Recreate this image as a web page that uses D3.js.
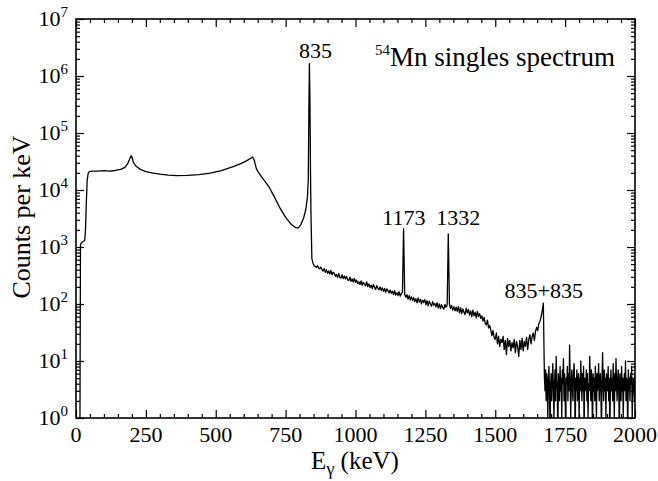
<!DOCTYPE html>
<html><head><meta charset="utf-8">
<script src="https://cdn.jsdelivr.net/npm/d3@7"></script>
<style>
body{margin:0;background:#fff}
text{font-family:"Liberation Serif","Times New Roman",serif;fill:#000}
</style>
</head><body>
<svg id="c" width="658" height="481"></svg>
<script>
// ---- data ----
const smoothEnergy = [0,14,16,20,26,31,34,37,40,44,48,60,80,100,120,140,160,175,185,192,197,200,205,215,230,250,275,300,330,360,400,440,480,520,560,590,610,625,632,638,645,655,670,690,710,730,750,770,785,795,805,815,822,828,831,833,835,837,839,841];
const smoothCounts = [0,0,1100,1200,1250,1300,2000,6000,15000,20000,21000,21500,21500,21800,21500,22000,23000,25000,29000,35000,40000,38000,31000,26000,23000,21000,19800,19000,18300,17900,18000,18600,19700,21800,25500,29000,32500,36000,38000,33000,24000,19500,15500,11500,7500,4800,3300,2500,2200,2150,2500,3300,4500,7500,15000,200000,1670000,400000,20000,3000];
const contStart = 844, contWidth = 4;
const contCounts = [
620,520,470,455,440,470,430,415,445,400,
380,420,360,400,345,380,335,390,325,360,
345,305,330,290,340,295,285,325,280,310,
275,305,265,258,295,250,275,243,280,240,
262,228,245,220,255,212,240,224,208,245,
202,226,194,214,186,220,196,180,210,190,
178,200,174,192,166,188,160,184,172,156,
176,154,168,146,172,144,158,141,164,137,
152,162,2100,147,132,146,122,140,117,134,
116,130,110,124,105,128,108,121,101,117,
106,120,97,114,93,112,100,91,110,95,
102,89,106,85,100,83,97,87,81,98,
88,96,1700,101,83,94,78,90,76,88,
74,90,70,86,68,82,72,65,84,70,
80,64,76,60,78,62,72,57,74,60,
68,56,62,50,58,46,43,52,38,42,
35,28,34,26,24,31,20,27,18,24,
21,27,16,23,13,25,18,23,15,21,
17,24,14,22,18,12,23,16,25,15,
22,18,26,16,24,29,20,27,31,23,
33,39,34,45,50,59,76,104];
const tailStart = 1676, tailWidth = 2;
const tailCounts = [
5,3,7,2,6,4,1,5,8,3,
0,4,6,2,5,9,3,1,4,7,
2,12,5,3,0,6,4,2,8,3,
5,1,7,4,11,2,6,3,0,5,
4,8,2,6,3,19,5,1,4,7,
3,2,6,9,4,0,5,3,7,2,
4,6,1,5,3,10,4,2,6,3,
8,0,5,3,4,7,2,6,1,4,
3,12,5,2,7,4,0,6,3,5,
2,8,4,1,6,3,5,9,2,4,
6,3,0,5,14,4,2,7,3,5,
1,6,4,3,8,2,5,0,4,7,
3,5,2,9,4,1,6,3,11,4,
2,5,7,3,0,6,4,2,8,3,
5,1,4,6,3,10,2,5,4,0,
7,3,5,2,6,4,8,1,3,5,
4,2,6];
const xTickValues = [0,250,500,750,1000,1250,1500,1750,2000];
const yExponents = [0,1,2,3,4,5,6,7];
const peakNames = ["835","1173","1332","835+835"];
const peakEnergies = [835,1173,1332,1670];
const peakLabelCounts = [2.07e6,2430,2430,127];
const titleIsotope = "54";
const titleText = "Mn singles spectrum";

// ---- layout ----
const M = {l:76, r:635, t:19, b:418};
const peakLabelDx = [6,0,10,1];
const svg = d3.select("#c");
const x = d3.scaleLinear().domain([0,2000]).range([M.l, M.r]);
const y = d3.scaleLog().domain([1,1e7]).range([M.b, M.t]);

const spectrum = smoothEnergy.map((e,i)=>({e, c:smoothCounts[i]}))
  .concat(contCounts.map((c,i)=>({e:contStart+i*contWidth, c})))
  .concat(tailCounts.map((c,i)=>({e:tailStart+i*tailWidth, c})));

svg.append("clipPath").attr("id","clip").append("rect")
  .attr("x",M.l).attr("y",M.t).attr("width",M.r-M.l).attr("height",M.b-M.t);

svg.append("path").datum(spectrum)
  .attr("clip-path","url(#clip)")
  .attr("fill","none").attr("stroke","#000").attr("stroke-width",1.3)
  .attr("stroke-linejoin","round")
  .attr("d", d3.line().x(d=>x(d.e)).y(d=>y(Math.max(d.c,0.5))));

// ticks
const MAJ = 8, MIN = 4;
const xMinor = d3.range(0,2001,50).filter(v=>v%250!==0);
const yMajor = yExponents.map(p=>Math.pow(10,p));
const yMinor = [];
for (let p=0;p<7;p++) for (let k=2;k<=9;k++) yMinor.push(k*Math.pow(10,p));

function axes(len, xv, yv){
  svg.append("g").attr("transform",`translate(0,${M.b})`)
    .call(d3.axisBottom(x).tickValues(xv).tickSize(-len).tickFormat(""));
  svg.append("g").attr("transform",`translate(0,${M.t})`)
    .call(d3.axisTop(x).tickValues(xv).tickSize(-len).tickFormat(""));
  svg.append("g").attr("transform",`translate(${M.l},0)`)
    .call(d3.axisLeft(y).tickValues(yv).tickSize(-len).tickFormat(""));
  svg.append("g").attr("transform",`translate(${M.r},0)`)
    .call(d3.axisRight(y).tickValues(yv).tickSize(-len).tickFormat(""));
}
axes(MAJ, xTickValues, yMajor);
axes(MIN, xMinor, yMinor);
svg.selectAll(".domain").remove();
svg.selectAll(".tick line").attr("stroke","#000").attr("stroke-width",1.2);

svg.append("rect").attr("x",M.l).attr("y",M.t).attr("width",M.r-M.l).attr("height",M.b-M.t)
  .attr("fill","none").attr("stroke","#000").attr("stroke-width",1.6);

// tick labels
svg.selectAll(".xl").data(xTickValues).join("text")
  .attr("x",d=>x(d)).attr("y",M.b+24).attr("text-anchor","middle")
  .attr("font-size",22).text(d=>d);

const yl = svg.selectAll(".yl").data(yExponents).join("text")
  .attr("x",M.l-8).attr("y",d=>y(Math.pow(10,d))+7).attr("text-anchor","end")
  .attr("font-size",22);
yl.append("tspan").text("10");
yl.append("tspan").attr("dy",-9).attr("font-size",15).text(d=>d);

// axis titles
const xt = svg.append("text").attr("x",355).attr("y",469).attr("text-anchor","middle").attr("font-size",25);
xt.append("tspan").text("E");
xt.append("tspan").attr("dy",6).attr("font-size",18).text("γ");
xt.append("tspan").attr("dy",-6).text(" (keV)");

svg.append("text").attr("transform","translate(30,217) rotate(-90)")
  .attr("text-anchor","middle").attr("font-size",26).text("Counts per keV");

// peak labels
svg.selectAll(".pl").data(peakNames).join("text")
  .attr("x",(d,i)=>x(peakEnergies[i])+peakLabelDx[i]).attr("y",(d,i)=>y(peakLabelCounts[i]))
  .attr("text-anchor","middle").attr("font-size",22).text(d=>d);

// title
const tt = svg.append("text").attr("x",375).attr("y",66).attr("font-size",27);
tt.append("tspan").attr("font-size",15).attr("dy",-11).text(titleIsotope);
tt.append("tspan").attr("dy",11).text(titleText);
</script>
</body></html>
